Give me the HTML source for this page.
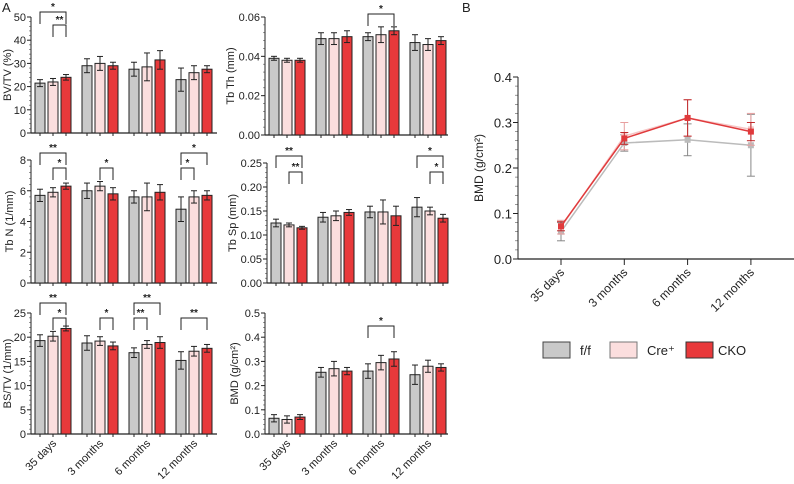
<!DOCTYPE html>
<html><head><meta charset="utf-8"><style>
body{margin:0;background:#fff;width:794px;height:479px;overflow:hidden}
svg{font-family:"Liberation Sans",Arial,sans-serif}
</style></head><body>
<svg id="fig" width="794" height="479" viewBox="0 0 794 479"></svg>
<script>
const groups=["35 days","3 months","6 months","12 months"];
const bvFF=[21.5,29,27.5,23], bvCre=[22,30,28.5,26], bvCKO=[24,29,31.5,27.5];
const bvFFe=[1.5,3,3,5], bvCree=[1.5,3,6,3], bvCKOe=[1.2,1.5,4,1.5];
const thFF=[0.039,0.049,0.050,0.047], thCre=[0.038,0.049,0.051,0.046], thCKO=[0.038,0.050,0.053,0.048];
const thFFe=[0.001,0.003,0.002,0.004], thCree=[0.001,0.003,0.004,0.003], thCKOe=[0.001,0.003,0.002,0.002];
const nFF=[5.7,6.0,5.6,4.8], nCre=[5.9,6.3,5.6,5.6], nCKO=[6.3,5.8,5.9,5.7];
const nFFe=[0.4,0.5,0.4,0.8], nCree=[0.3,0.3,0.9,0.4], nCKOe=[0.2,0.4,0.5,0.3];
const spFF=[0.125,0.137,0.148,0.158], spCre=[0.121,0.140,0.148,0.150], spCKO=[0.115,0.147,0.140,0.135];
const spFFe=[0.008,0.01,0.012,0.02], spCree=[0.004,0.01,0.025,0.008], spCKOe=[0.003,0.006,0.02,0.008];
const bsFF=[19.3,18.8,16.8,15.2], bsCre=[20.2,19.2,18.5,17.1], bsCKO=[21.8,18.2,18.9,17.7];
const bsFFe=[1.2,1.5,1.0,1.8], bsCree=[1.0,0.9,0.8,1.0], bsCKOe=[0.5,0.8,1.2,0.8];
const bmdFF=[0.065,0.255,0.26,0.245], bmdCre=[0.06,0.27,0.295,0.28], bmdCKO=[0.07,0.26,0.31,0.275];
const bmdFFe=[0.015,0.02,0.03,0.04], bmdCree=[0.015,0.03,0.03,0.025], bmdCKOe=[0.01,0.015,0.03,0.015];
const lineFF=[0.06,0.255,0.262,0.25], lineCre=[0.07,0.27,0.31,0.285], lineCKO=[0.072,0.265,0.31,0.28];
const lineFFe=[0.02,0.018,0.035,0.068], lineCree=[0.015,0.03,0.04,0.035], lineCKOe=[0.01,0.013,0.04,0.02];
const bTicks=[0,0.1,0.2,0.3,0.4];

const NS="http://www.w3.org/2000/svg";
const svg=document.getElementById('fig');
const COL=["#c9c9c9","#fbdede","#e8393b"];
function el(t,a,p){const e=document.createElementNS(NS,t);for(const k in a)e.setAttribute(k,a[k]);(p||svg).appendChild(e);return e;}
function txt(s,a,p){const e=el('text',a,p);e.textContent=s;return e;}

function panel(name,x0,xEnd,yTop,yBot,ymax,ticks,fmt,title,tOff,series,errs,sig,showX){
  const g=el('g',{});
  
  
  const ys=v=>yBot-(v/ymax)*(yBot-yTop);
  const xs=(i,j)=>x0+9+47*i+13*j;
  const step=(ticks[1]-ticks[0])/5;
  for(let v=0;v<=ymax+1e-9;v+=step){el('line',{x1:x0-2,x2:x0,y1:ys(v),y2:ys(v),stroke:'#555','stroke-width':0.6},g);}
  ticks.forEach(t=>{
    el('line',{x1:x0-4,x2:x0,y1:ys(t),y2:ys(t),stroke:'#222','stroke-width':1},g);
    const tl=txt(fmt(t),{x:x0-5,y:ys(t)+4,'text-anchor':'end','font-size':11,fill:'#222'},g);
    
    
  });
  el('line',{x1:x0,x2:x0,y1:ys(ymax),y2:yBot,stroke:'#222','stroke-width':1},g);
  el('line',{x1:x0,x2:xEnd,y1:yBot,y2:yBot,stroke:'#222','stroke-width':1.2},g);
  const yt=txt(title,{transform:`translate(${x0-tOff},${(yTop+yBot)/2}) rotate(-90)`,'text-anchor':'middle','font-size':11,fill:'#222'},g);
  
  
  series.forEach((s,j)=>{
    s.forEach((v,i)=>{
      const cx=xs(i,j);
      const b=el('rect',{x:cx-5,y:ys(v),width:10,height:yBot-ys(v),fill:COL[j],stroke:'#222','stroke-width':1},g);
      
      
      const e=errs[j][i];
      el('line',{x1:cx,x2:cx,y1:ys(v+e),y2:ys(v-e),stroke:'#222','stroke-width':1},g);
      el('line',{x1:cx-3,x2:cx+3,y1:ys(v+e),y2:ys(v+e),stroke:'#222','stroke-width':1},g);
      el('line',{x1:cx-3,x2:cx+3,y1:ys(v-e),y2:ys(v-e),stroke:'#222','stroke-width':1},g);
      el('line',{x1:cx,x2:cx,y1:yBot,y2:yBot+3,stroke:'#222','stroke-width':1},g);
    });
  });
  sig.forEach(s=>{
    const [gi,a,b,y,lab]=s;
    const x1=xs(gi,a),x2=xs(gi,b);
    el('path',{d:`M${x1},${y+12}V${y}H${x2}V${y+12}`,fill:'none',stroke:'#222','stroke-width':1},g);
    const st=txt(lab,{x:(x1+x2)/2,y:y-2,'text-anchor':'middle','font-size':10,'font-weight':'bold',fill:'#222'},g);
    
    
  });
  if(showX){groups.forEach((gname,i)=>{
    const cx=xs(i,1)+4;
    const xl=txt(gname,{transform:`translate(${cx},${yBot+10}) rotate(-45)`,'text-anchor':'end','font-size':11,fill:'#222'},g);
    
    
  });}
}
const f0=t=>String(t), f2=t=>t.toFixed(2), f1=t=>t.toFixed(1);
panel('bv-tv',31,217,17,133,50,[0,10,20,30,40,50],f0,'BV/TV (%)',20,[bvFF,bvCre,bvCKO],[bvFFe,bvCree,bvCKOe],[[0,0,2,12,'*'],[0,1,2,25,'**']],false);
panel('tb-th',265,448,17,135,0.06,[0,0.02,0.04,0.06],f2,'Tb Th (mm)',31,[thFF,thCre,thCKO],[thFFe,thCree,thCKOe],[[2,0,2,14,'*']],false);
panel('tb-n',31,217,160,283,8,[0,2,4,6,8],f0,'Tb N (1/mm)',18,[nFF,nCre,nCKO],[nFFe,nCree,nCKOe],[[0,0,2,153,'**'],[0,1,2,168,'*'],[1,1,2,168,'*'],[3,0,2,153,'*'],[3,0,1,168,'*']],false);
panel('tb-sp',267,448,163,283,0.25,[0,0.05,0.10,0.15,0.20,0.25],f2,'Tb  Sp (mm)',31,[spFF,spCre,spCKO],[spFFe,spCree,spCKOe],[[0,0,2,156,'**'],[0,1,2,172,'**'],[3,0,2,156,'*'],[3,1,2,172,'*']],false);
panel('bs-tv',31,217,313,434,25,[0,5,10,15,20,25],f0,'BS/TV (1/mm)',20,[bsFF,bsCre,bsCKO],[bsFFe,bsCree,bsCKOe],[[0,0,2,303,'**'],[0,1,2,318,'*'],[1,1,2,318,'*'],[2,0,2,303,'**'],[2,0,1,318,'**'],[3,0,2,318,'**']],true);
panel('bmd',265,448,313,434,0.5,[0,0.1,0.2,0.3,0.4,0.5],f1,'BMD (g/cm²)',27,[bmdFF,bmdCre,bmdCKO],[bmdFFe,bmdCree,bmdCKOe],[[2,0,2,326,'*']],true);

const la=txt('A',{x:2,y:12,'font-size':13,fill:'#222'});


const lb=txt('B',{x:462,y:12,'font-size':13,fill:'#222'});



(function(){
  const x0=518,xEnd=794,yTop=77,yBot=259,ymax=0.4;
  const ys=v=>yBot-(v/ymax)*(yBot-yTop);
  const xs=i=>561+63.3*i;
  const g=el('g',{});
  
  
  for(let v=0;v<=ymax+1e-9;v+=0.02)el('line',{x1:x0-3,x2:x0,y1:ys(v),y2:ys(v),stroke:'#555','stroke-width':0.6},g);
  bTicks.forEach(t=>{
    el('line',{x1:x0-5,x2:x0,y1:ys(t),y2:ys(t),stroke:'#222','stroke-width':1},g);
    const tl=txt(t.toFixed(1),{x:x0-6,y:ys(t)+5,'text-anchor':'end','font-size':13,fill:'#222'},g);
    
    
  });
  el('line',{x1:x0,x2:x0,y1:yTop,y2:yBot,stroke:'#222','stroke-width':1},g);
  el('line',{x1:x0,x2:xEnd,y1:yBot,y2:yBot,stroke:'#222','stroke-width':1.2},g);
  const yt=txt('BMD (g/cm²)',{transform:`translate(${x0-35},${(yTop+yBot)/2}) rotate(-90)`,'text-anchor':'middle','font-size':12,fill:'#222'},g);
  
  
  groups.forEach((gn,i)=>{
    el('line',{x1:xs(i),x2:xs(i),y1:yBot,y2:yBot+6,stroke:'#222','stroke-width':1},g);
    const xl=txt(gn,{transform:`translate(${xs(i)+4},${yBot+14}) rotate(-45)`,'text-anchor':'end','font-size':12,fill:'#222'},g);
    
    
  });
  const S=[[lineFF,lineFFe,'#bbbbbb','#888','ff'],[lineCre,lineCree,'#f6c6c6','#e8a0a0','cre'],[lineCKO,lineCKOe,'#e03a3c','#c02a2c','cko']];
  S.forEach(([v,e,c,ec,nm])=>{
    v.forEach((d,i)=>{
      const x=xs(i);
      el('line',{x1:x,x2:x,y1:ys(d+e[i]),y2:ys(d-e[i]),stroke:ec,'stroke-width':1},g);
      el('line',{x1:x-4,x2:x+4,y1:ys(d+e[i]),y2:ys(d+e[i]),stroke:ec,'stroke-width':1},g);
      el('line',{x1:x-4,x2:x+4,y1:ys(d-e[i]),y2:ys(d-e[i]),stroke:ec,'stroke-width':1},g);
    });
    const p=el('polyline',{points:v.map((d,i)=>xs(i)+','+ys(d)).join(' '),fill:'none',stroke:c,'stroke-width':1.5},g);
    
    
    v.forEach((d,i)=>{
      const m=el('rect',{x:xs(i)-3,y:ys(d)-3,width:6,height:6,fill:c},g);
      
      
    });
  });
})();

[['f/f',543,580,COL[0],'#444'],['Cre⁺',610,647,COL[1],'#777'],['CKO',686,718,COL[2],'#333']].forEach(([lab,bx,tx,c,s])=>{
  const r=el('rect',{x:bx,y:342,width:27,height:16,fill:c,stroke:s,'stroke-width':1});
  
  
  const t=txt(lab,{x:tx,y:355,'font-size':13,fill:'#222'});
  
  
});
</script>
</body></html>
